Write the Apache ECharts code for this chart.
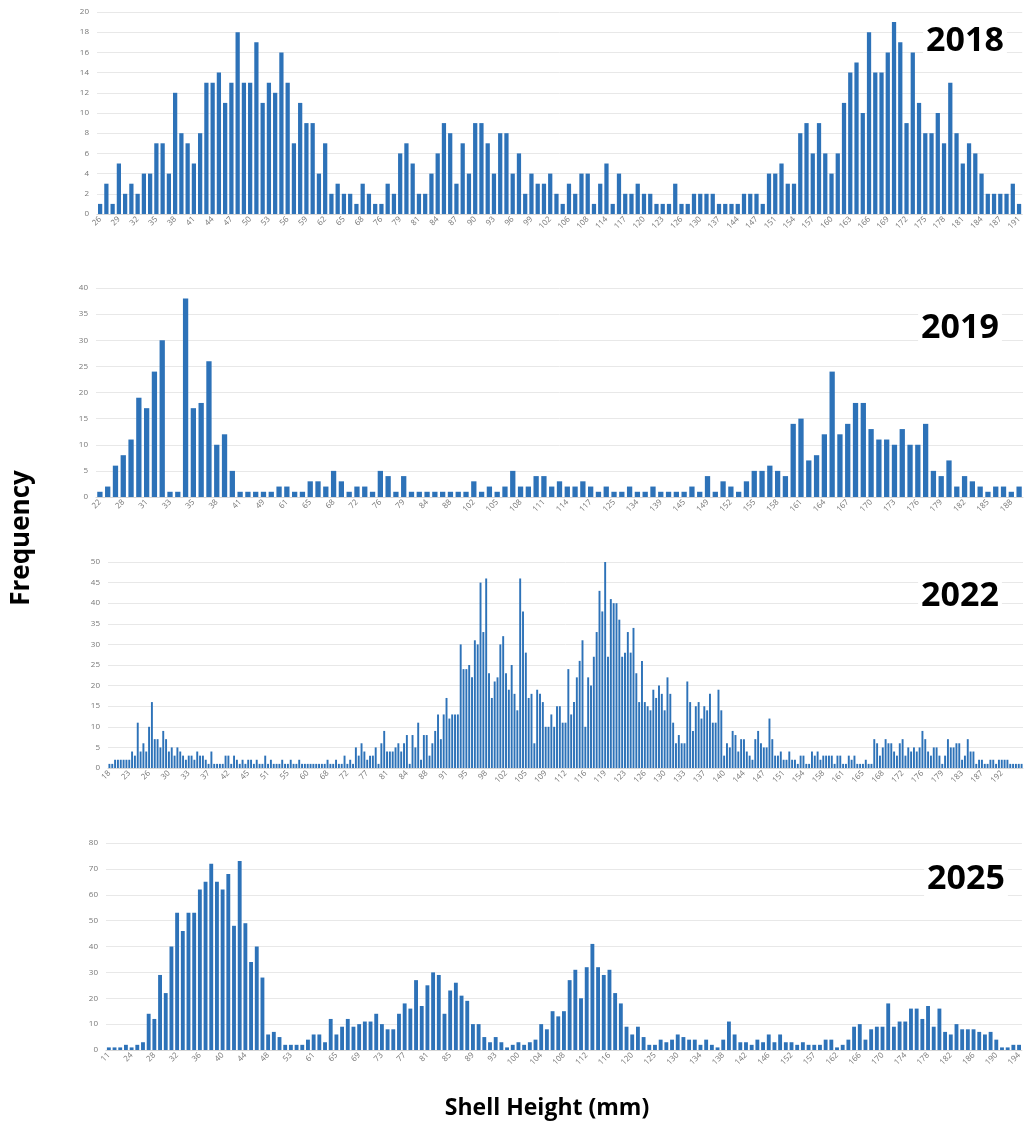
<!DOCTYPE html>
<html><head><meta charset="utf-8">
<script src="https://cdn.jsdelivr.net/npm/echarts@6/dist/echarts.min.js"></script>
<style>html,body{margin:0;padding:0;background:#fff}#c{width:1024px;height:1125px}</style>
</head><body><div id="c"></div>
<script>
// ---- data ----
const years = ['2018', '2019', '2022', '2025'];

const freq2018 = [1,3,1,5,2,3,2,4,4,7,7,4,12,8,7,5,8,13,13,14,11,13,18,13,13,17,11,13,12,16,13,7,11,9,9,4,7,2,3,2,2,1,3,2,1,1,3,2,6,7,5,2,2,4,6,9,8,3,7,4,9,9,7,4,8,8,4,6,2,
4,3,3,4,2,1,3,2,4,4,1,3,5,1,4,2,2,3,2,2,1,1,1,3,1,1,2,2,2,2,1,1,1,1,2,2,2,1,4,4,5,3,3,8,9,6,9,6,4,6,11,14,15,10,18,14,14,16,19,17,9,16,11,8,8,10,7,13,8,5,7,6,4,2,2,2,2,3,1];
const labels2018 = ['26','29','32','35','38','41','44','47','50','53','56','59','62','65','68','76','79','81','84','87','90','93','96','99',
'102','106','108','114','117','120','123','126','130','137','144','147','151','154','157','160','163','166','169','172','175','178','181','184','187','191'];

const freq2019 = [1,2,6,8,11,19,17,24,30,1,1,38,17,18,26,10,12,5,1,1,1,1,1,2,2,1,1,3,3,2,5,3,1,2,2,1,5,4,1,4,1,1,1,1,1,1,1,1,3,1,2,1,2,5,2,2,4,
4,2,3,2,2,3,2,1,2,1,1,2,1,1,2,1,1,1,1,2,1,4,1,3,2,1,3,5,5,6,5,4,14,15,7,8,12,24,12,14,18,18,13,11,11,10,13,10,10,14,5,4,7,2,4,3,2,1,2,2,1,2];
const labels2019 = ['22','28','31','33','35','38','41','49','61','65','68','72','76','79','84','88','102','105','108','111','114','117','125','134',
'139','145','149','152','155','158','161','164','167','170','173','176','179','182','185','188'];

const freq2022 = [1,1,2,2,2,2,2,2,4,3,11,4,6,4,10,16,7,7,5,9,7,4,5,3,5,4,3,2,3,3,2,4,3,3,2,1,4,1,1,1,1,3,3,1,3,2,1,2,1,2,2,1,2,1,1,3,1,2,1,1,1,2,1,1,2,1,1,2,1,1,1,1,1,1,1,1,1,2,
1,1,2,1,1,3,1,2,1,5,3,6,4,2,3,3,5,1,6,9,4,4,4,5,6,4,6,8,1,8,5,11,2,8,8,3,6,9,13,7,13,17,12,13,13,13,30,24,24,25,22,31,30,45,33,46,23,17,21,22,30,32,23,19,25,18,14,46,38,28,17,18,6,19,18,16,10,10,13,10,15,15,11,11,
24,13,16,22,26,31,10,22,20,27,33,43,38,50,27,41,40,40,36,27,28,33,28,34,23,16,26,16,15,14,19,17,20,18,14,22,18,11,6,8,6,6,21,16,9,15,16,12,15,14,18,11,11,19,14,3,6,5,9,8,4,7,7,4,3,2,7,9,6,5,5,12,7,3,3,4,2,2,
4,2,2,1,3,3,1,1,4,3,4,2,3,3,3,3,1,3,3,1,1,3,2,3,1,1,1,2,1,1,7,6,3,5,7,6,6,4,3,6,7,3,5,4,5,4,5,9,7,4,3,5,5,3,1,3,7,5,5,6,6,2,3,7,4,4,1,2,2,1,1,2,2,1,2,2,2,2,1,1,1,1,1];
const labels2022 = ['18','23','26','30','33','37','42','45','51','55','60','68','72','77','81','84','88','91','95','98','102','105','109','112',
'116','119','123','126','130','133','137','140','144','147','151','154','158','161','165','168','172','176','179','183','187','192'];

const freq2025 = [1,1,1,2,1,2,3,14,12,29,22,40,53,46,53,53,62,65,72,65,62,68,48,73,49,34,40,28,6,7,5,2,2,2,2,4,6,6,3,12,6,9,12,9,10,11,11,14,
10,8,8,14,18,16,27,17,25,30,29,14,23,26,21,19,10,10,5,3,5,3,1,2,3,2,3,4,10,8,15,13,15,27,31,20,32,41,32,29,31,22,18,9,6,9,5,2,2,4,3,4,6,5,4,
4,2,4,2,1,4,11,6,3,3,2,4,3,6,3,6,3,3,2,3,2,2,2,4,4,1,2,4,9,10,4,8,9,9,18,9,11,11,16,16,12,17,9,16,7,6,10,8,8,8,7,6,7,4,1,1,2,2];
const labels2025 = ['11','24','28','32','36','40','44','48','53','61','65','69','73','77','81','85','89','93','100','104','108','112','116','120',
'125','130','134','138','142','146','152','157','162','166','170','174','178','182','186','190','194'];

// ---- layout / styling ----
const panels = [
  {year: years[0], data: freq2018, labels: labels2018, step: 3, max: 20, interval: 2,  grid: {left: 97,  right: 1, top: 12,  height: 202}, pos: [965, 41]},
  {year: years[1], data: freq2019, labels: labels2019, step: 3, max: 40, interval: 5,  grid: {left: 96,  right: 1, top: 288, height: 209}, pos: [960, 328]},
  {year: years[2], data: freq2022, labels: labels2022, step: 7, max: 50, interval: 5,  grid: {left: 108, right: 1, top: 562, height: 206}, pos: [960, 596]},
  {year: years[3], data: freq2025, labels: labels2025, step: 4, max: 80, interval: 10, grid: {left: 106, right: 1, top: 843, height: 207}, pos: [966, 879]}
];
const BLUE = '#2d72b8';
const FONT = 'Open Sans';

const option = {
  animation: false,
  backgroundColor: '#fff',
  grid: panels.map(p => Object.assign({containLabel: false}, p.grid)),
  xAxis: panels.map((p, i) => ({
    type: 'category', gridIndex: i,
    data: p.data.map((_, j) => j),
    axisTick: {show: false},
    axisLine: {lineStyle: {color: '#d6d6d6'}},
    axisLabel: {
      interval: p.step - 1, rotate: 45, fontSize: 8, color: '#777', margin: 4, fontFamily: FONT,
      formatter: (v, idx) => { const k = idx / p.step; return Number.isInteger(k) && k < p.labels.length ? p.labels[k] : ''; }
    },
    splitLine: {show: false}
  })),
  yAxis: panels.map((p, i) => ({
    type: 'value', gridIndex: i, min: 0, max: p.max, interval: p.interval,
    axisLine: {show: false}, axisTick: {show: false},
    axisLabel: {fontSize: 8, color: '#777', margin: 8, fontFamily: FONT},
    splitLine: {lineStyle: {color: '#e8e8e8', width: 1}}
  })),
  series: panels.map((p, i) => ({
    type: 'bar', xAxisIndex: i, yAxisIndex: i, data: p.data,
    barCategoryGap: '32%', itemStyle: {color: BLUE}, silent: true
  })),
  graphic: panels.map(p => ({
    type: 'text', x: p.pos[0], y: p.pos[1], z: 100,
    style: {text: p.year, font: 'bold 34px "Open Sans"', fill: '#000', textAlign: 'center', textVerticalAlign: 'middle',
            backgroundColor: '#fff', padding: [0, 3]}
  })).concat([
    {type: 'text', x: 22, y: 538, rotation: Math.PI / 2, z: 100,
     style: {text: 'Frequency', font: 'bold 26px "Open Sans"', fill: '#000', textAlign: 'center', textVerticalAlign: 'middle'}},
    {type: 'text', x: 547, y: 1108, z: 100,
     style: {text: 'Shell Height (mm)', font: 'bold 23px "Open Sans"', fill: '#000', textAlign: 'center', textVerticalAlign: 'middle'}}
  ])
};

const chart = echarts.init(document.getElementById('c'), null, {renderer: 'canvas'});
chart.setOption(option);
</script>
</body></html>
